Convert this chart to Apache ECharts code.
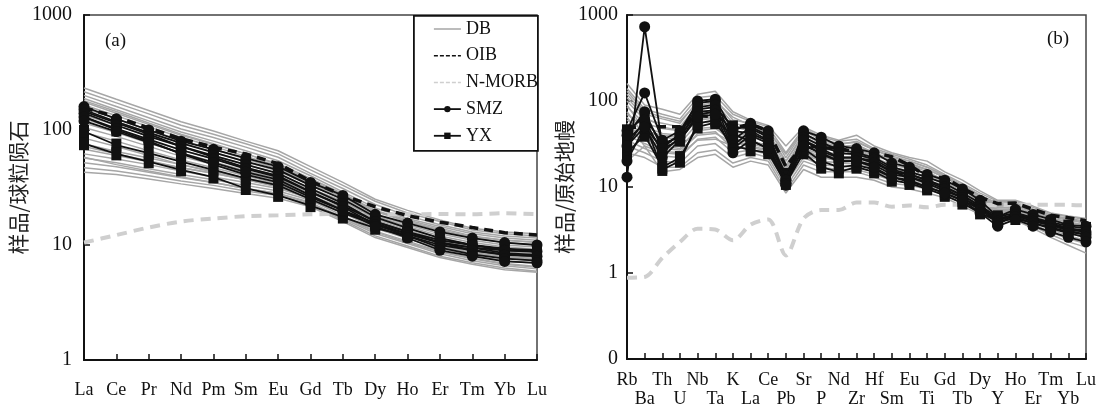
<!DOCTYPE html>
<html><head><meta charset="utf-8">
<script src="https://cdn.jsdelivr.net/npm/echarts@6/dist/echarts.min.js"></script>
<style>html,body{margin:0;padding:0;background:#fff}#c{width:1106px;height:409px}</style>
</head><body><div id="c"></div>
<script>
// ---------- categories ----------
const reeElements = ['La','Ce','Pr','Nd','Pm','Sm','Eu','Gd','Tb','Dy','Ho','Er','Tm','Yb','Lu'];
const spiderElements = ['Rb','Ba','Th','U','Nb','Ta','K','La','Ce','Pb','Sr','P','Nd','Zr','Hf','Sm','Eu','Ti','Gd','Tb','Dy','Y','Ho','Er','Tm','Yb','Lu'];

// ---------- (a) chondrite-normalised ----------
const oibChondrite = [156,130,104,84,71,62,51,36,27,21.5,18,15.8,14.2,12.8,12.2];
const nmorbChondrite = [10.5,12.2,14.2,16,17,17.8,18.1,18.5,18.6,18.5,18.5,18.6,18.5,18.9,18.5];
const dbChondrite = [
  [232,185,148,118,98,80,66,48,35,25,20,16.5,14,13,12.5],
  [215,172,138,110,92,76,62,45,33,24,19,16,13.5,12.5,12],
  [200,160,128,102,86,71,58,42,31,22.5,18,15,13,12,11.5],
  [188,150,120,96,80,66,54,40,29,21,17,14.5,12.5,11.5,11],
  [180,145,115,92,76,62,50,37,27.5,20,16,13.5,11.8,11,10.6],
  [175,140,112,90,75,62,51,38,28,20,16.5,14,12,11,10.5],
  [165,133,107,86,72,59,49,36,27,19.5,16,13.5,11.5,10.5,10],
  [155,125,100,81,68,56,46,34,26,18.5,15,12.5,11,10,9.6],
  [145,118,95,77,64,53,44,33,25,18,14.5,12,10.5,9.6,9.2],
  [135,110,88,72,60,50,42,31,24,17,14,11.5,10,9.2,8.8],
  [125,102,82,67,56,47,40,30,23,16.5,13.5,11,9.7,9,8.6],
  [115,95,77,63,53,44,38,28,22,16,13,10.8,9.5,8.8,8.4],
  [105,88,72,59,50,42,36,27,21,15.5,12.5,10.4,9.2,8.5,8.1],
  [95,80,66,55,47,40,34,26,20,15,12.2,10,8.9,8.2,7.8],
  [85,72,60,50,43,37,32,25,19,14.5,11.8,9.8,8.7,8,7.6],
  [76,65,57,50,44,38,34,27,20,15,12,9.8,8.6,7.9,7.5],
  [72,62,54,47,42,37,33,27,20,15,12,9.8,8.6,7.8,7.4],
  [68,60,53,47,42,37,33,27,20,15,12,9.8,8.5,7.7,7.3],
  [62,56,50,44,39,35,31,25.5,19,14,11.4,9.3,8.1,7.3,6.9],
  [58,50,44,39,35,31,28,23,17.5,13,10.5,8.7,7.6,6.8,6.4],
  [57,52,46,41,37,33,29.5,24.5,18,13.2,10.8,8.8,7.7,6.9,6.5],
  [52,48,43,38.5,35,31,28,23.5,17,12.6,10.3,8.4,7.3,6.6,6.2],
  [47,44,40,36,33,29.5,27,22.5,16.5,12,9.8,8,7,6.3,5.9],
  [43,41,37.5,34,31,28,25.5,21.5,16,11.6,9.5,7.8,6.8,6.1,5.8]
];
const smzChondrite = [
  [160,125,100,80,68,57,48,35,27,18.5,15.5,13,11.5,10.5,10],
  [150,118,95,77,64,53,45,33,25,17.5,14,11.5,10,9,8.8],
  [140,110,88,72,60,50,42,31,23,16,13,10.5,9,8.2,8],
  [130,103,83,67,56,46,39,29,21.5,15,12,9.5,8.3,7.6,7.3],
  [120,97,78,63,52,43,37,27,20,14.5,11.5,9,8,7.2,7]
];
const yxChondrite = [
  [97,74,63,53,45,38,33,25,19,15,12.5,10.5,9.5,8.5,8.2],
  [76,62,53,45,39,31,27,22,17.5,14,12,10,9,8.3,8],
  [145,115,92,72,58,47,40,29,22,16,13,11,10,9.3,9],
  [130,100,80,62,50,41,35,26,20,15.5,12.5,10.5,9.5,9,8.7]
];

// ---------- (b) primitive-mantle-normalised ----------
const oibMantle = [48.8,50,50.3,50.2,67.3,65.9,48,53.9,45,17.3,31.3,28.4,28.4,25,25.2,22.5,17.9,13.2,12.8,9.7,7.6,6.4,6.5,5.5,4.7,4.4,4.05];
const nmorbMantle = [0.88,0.9,1.5,2.3,3.27,3.2,2.4,3.64,4.2,1.6,4.3,5.4,5.4,6.6,6.6,5.9,6.1,5.8,6.2,6.2,6.2,6.15,6.2,6.2,6.2,6.2,6.1];
const dbMantle = [
  [160,90,80,70,120,130,75,60,52,30,50,40,35,40,30,25,22,20,15,12,9,7,7,6,5,4.6,4.3],
  [140,80,70,62,110,115,70,58,50,25,48,38,34,36,28,24,21,18,14,11,8.5,6.8,6.8,5.8,4.9,4.5,4.2],
  [130,75,65,58,95,100,65,52,45,24,46,35,31,34,27,22,20,17,13.5,10.5,8,6.4,6.5,5.5,4.7,4.2,3.9],
  [120,70,62,55,100,105,60,55,47,22,45,36,32,33,27,23,20,17,13.5,10.5,8,6.5,6.5,5.5,4.7,4.3,4],
  [110,65,50,45,70,72,50,45,40,20,42,32,29,31,25,20,18,16,13,10,7.8,6.1,6.2,5.2,4.4,3.9,3.6],
  [100,60,55,50,90,95,55,50,43,20,40,33,30,30,25,21,19,16,13,10,7.8,6.2,6.3,5.3,4.5,4.1,3.8],
  [90,45,40,38,60,63,42,40,35,17,36,28,26,27,22,18,16.5,14.5,12,9.2,7.2,5.7,5.8,4.9,4.2,3.7,3.4],
  [85,55,48,45,80,85,50,46,40,18,38,31,28,28,23,20,18,15,12,9.5,7.5,6,6,5.1,4.3,3.9,3.6],
  [75,40,32,30,45,48,35,33,29,14,32,24,22,23,19,16,15,13,11,8.5,6.8,5.4,5.5,4.6,3.9,3.4,3.1],
  [70,50,42,40,70,75,45,42,36,16,34,28,26,26,21,18,16.5,14,11.5,9,7.2,5.8,5.8,4.9,4.1,3.7,3.4],
  [65,35,28,27,40,42,33,30,27,13,28,22,21,21,17.5,15,14,12,10,8,6.4,5.1,5.2,4.4,3.7,3.2,2.9],
  [60,45,38,36,62,66,40,38,33,15,31,26,24,24,20,17,15.5,13,11,8.6,6.9,5.5,5.6,4.7,3.9,3.5,3.2],
  [55,30,25,24,35,36,30,27,25,12,26,20,19,20,16,14,13,11.5,9.5,7.5,6,4.8,5,4.2,3.5,3,2.7],
  [50,40,34,32,55,58,36,35,30,14,28,24,22,22,18.5,16,14.5,12,10.5,8.2,6.6,5.3,5.4,4.5,3.8,3.3,3],
  [45,36,30,28,48,50,32,32,28,13,26,22,20,20,17,15,13.5,11.5,10,7.8,6.3,5.1,5.2,4.3,3.6,3.1,2.8],
  [40,32,26,25,42,44,28,29,26,12,24,20,19,18.5,16,14,12.5,11,9.5,7.5,6,4.9,5,4.1,3.4,2.9,2.6],
  [35,28,23,22,36,38,25,27,24,11,22,18,17.5,17,15,13,12,10.5,9,7.2,5.7,4.7,4.8,3.9,3.2,2.7,2.4],
  [30,25,20,19,30,32,22,25,22,10,20,17,16,16,14,12,11,10,8.5,6.8,5.4,4.5,4.6,3.7,3,2.5,2.2],
  [25,22,17,17,25,27,19,22,20,9,18,15,15,15,13,11,10.5,9.5,8,6.5,5.2,4.3,4.4,3.5,2.8,2.3,2],
  [20,30,15,16,22,24,17,20,18,8.5,16,13,13,13,12,10,9.5,8.5,7.5,6,4.8,4,4.1,3.3,2.6,2.1,1.7]
];
const smzMantle = [
  [13,730,30,40,100,105,45,55,45,11,45,38,30,28,25,19,17,14,12,9.5,7,4.5,5.5,4.8,4.2,3.6,3.5],
  [45,124,35,45,95,100,35,50,40,12,42,33,27,25,22,17,15,13,11,8.5,6.5,3.6,5,4.3,3.8,3.3,3],
  [40,75,28,42,85,90,30,45,35,12,38,30,25,24,21,16,14,12,10,8,6,4,4.8,4,3.6,3.1,2.8],
  [30,60,25,38,75,78,28,40,32,11,35,28,22,22,19,15,13,11.5,9.5,7.5,5.5,3.8,4.5,3.8,3.3,2.9,2.6],
  [20,50,22,35,65,70,25,35,28,10.5,30,25,20,20,17,13,11.5,10,8.5,7,5,3.5,4.2,3.5,3,2.6,2.3]
];
const yxMantle = [
  [25,40,17,22,50,56,30,27,25,11,25,17,15,17,15,12,11,9.5,8,6.5,5,4,4.3,3.8,3.4,3,2.8],
  [35,55,16,20,55,60,40,35,28,12,28,20,17,18,16,13,12,10,8.5,7,5.5,4.2,4.6,4,3.6,3.2,3],
  [45,65,32,38,80,85,50,48,38,14,35,26,22,22,20,15,14,12,10,8,6,4.5,5,4.4,3.9,3.5,3.3],
  [30,50,28,35,70,75,45,42,34,13,32,24,20,20,18,14,13,11,9,7.5,5.8,4.3,4.8,4.2,3.7,3.3,3.1]
];

// ---------- styles ----------
const SERIF = 'Liberation Serif';
const CJK = 'Noto Sans CJK SC';
const INK = '#111';

function lineSeries(name, data, g, style) {
  return Object.assign({
    type: 'line', name: name, data: data,
    xAxisIndex: g, yAxisIndex: g,
    silent: true, animation: false
  }, style);
}
const dbStyle = {symbol: 'none', lineStyle: {color: '#a6a6a6', width: 1.5}, itemStyle: {color: '#a6a6a6'}, z: 1};
const nmorbStyle = {symbol: 'none', smooth: 0.3, lineStyle: {color: '#cfcfcf', width: 4, type: [10, 7]}, itemStyle: {color: '#cfcfcf'}, z: 2};
const oibStyle = {symbol: 'none', lineStyle: {color: INK, width: 3.5, type: [9, 6]}, itemStyle: {color: INK}, z: 3};
const smzStyle = {symbol: 'circle', symbolSize: 11, showSymbol: true, lineStyle: {color: INK, width: 1.8}, itemStyle: {color: INK}, z: 5};
const yxStyle = {symbol: 'rect', symbolSize: [10, 13], showSymbol: true, lineStyle: {color: INK, width: 1.8}, itemStyle: {color: INK}, z: 4};

const series = [];
[[dbChondrite, nmorbChondrite, oibChondrite, smzChondrite, yxChondrite, 0],
 [dbMantle, nmorbMantle, oibMantle, smzMantle, yxMantle, 1]].forEach(function (p) {
  const g = p[5];
  p[0].forEach(function (d) { series.push(lineSeries('DB', d, g, dbStyle)); });
  series.push(lineSeries('N-MORB', p[1], g, nmorbStyle));
  series.push(lineSeries('OIB', p[2], g, oibStyle));
  p[4].forEach(function (d) { series.push(lineSeries('YX', d, g, yxStyle)); });
  p[3].forEach(function (d) { series.push(lineSeries('SMZ', d, g, smzStyle)); });
});

function yFmt(v) { return v < 0.5 ? '0' : String(Math.round(v)); }

const chart = echarts.init(document.getElementById('c'), null, {renderer: 'canvas'});
chart.setOption({
  animation: false,
  backgroundColor: '#fff',
  grid: [
    {left: 84, top: 15, width: 453, height: 345, show: true, borderColor: '#444', borderWidth: 1.5, backgroundColor: 'transparent'},
    {left: 627, top: 15, width: 459, height: 345, show: true, borderColor: '#444', borderWidth: 1.5, backgroundColor: 'transparent'}
  ],
  xAxis: [
    {type: 'category', gridIndex: 0, data: reeElements, boundaryGap: false,
     axisLine: {lineStyle: {color: INK, width: 2}},
     axisTick: {inside: true, length: 6, lineStyle: {color: INK, width: 1.5}, interval: 0},
     axisLabel: {interval: 0, margin: 21, color: INK, fontFamily: SERIF, fontSize: 18},
     splitLine: {show: false}},
    {type: 'category', gridIndex: 1, data: spiderElements, boundaryGap: false,
     axisLine: {lineStyle: {color: INK, width: 2}},
     axisTick: {inside: true, length: 6, lineStyle: {color: INK, width: 1.5}, interval: 0},
     axisLabel: {interval: 0, margin: 12, color: INK, fontFamily: SERIF, fontSize: 18, lineHeight: 19,
       formatter: function (v, i) { return i % 2 ? '\n' + v : v; }},
     splitLine: {show: false}}
  ],
  yAxis: [
    {type: 'log', logBase: 10, gridIndex: 0, min: 1, max: 1000, splitNumber: 3,
     name: '样品/球粒陨石', nameLocation: 'middle', nameRotate: 90, nameGap: 55,
     nameTextStyle: {fontFamily: CJK, fontSize: 21, color: '#222'},
     axisLine: {show: true, lineStyle: {color: INK, width: 2}},
     axisTick: {show: true, inside: true, length: 6, lineStyle: {color: INK, width: 1.5}},
     minorTick: {show: false},
     axisLabel: {margin: 12, color: INK, fontFamily: SERIF, fontSize: 20, formatter: yFmt},
     splitLine: {show: false}},
    {type: 'log', logBase: 10, gridIndex: 1, min: 0.1, max: 1000, splitNumber: 4,
     name: '样品/原始地幔', nameLocation: 'middle', nameRotate: 90, nameGap: 46,
     nameTextStyle: {fontFamily: CJK, fontSize: 21, color: '#222'},
     axisLine: {show: true, lineStyle: {color: INK, width: 2}},
     axisTick: {show: true, inside: true, length: 6, lineStyle: {color: INK, width: 1.5}},
     minorTick: {show: false},
     axisLabel: {margin: 9, color: INK, fontFamily: SERIF, fontSize: 20, formatter: yFmt},
     splitLine: {show: false}}
  ],
  legend: {
    orient: 'vertical', left: 433, top: 20, padding: 0,
    itemWidth: 27, itemHeight: 8, itemGap: 8.7,
    textStyle: {fontFamily: SERIF, fontSize: 18, color: INK, lineHeight: 18},
    selectedMode: false,
    data: [
      {name: 'DB', lineStyle: {width: 1.5}, itemStyle: {opacity: 0}},
      {name: 'OIB', lineStyle: {width: 1.6, type: [4, 2]}, itemStyle: {opacity: 0}},
      {name: 'N-MORB', lineStyle: {width: 1.5, type: [4, 2]}, itemStyle: {opacity: 0}},
      {name: 'SMZ', lineStyle: {width: 1.8}},
      {name: 'YX', lineStyle: {width: 1.8}}
    ]
  },
  graphic: [
    {type: 'rect', left: 413, top: 15, z: 0, zlevel: 0,
     shape: {width: 124, height: 135},
     style: {fill: '#fff', stroke: INK, lineWidth: 1.8}},
    {type: 'text', left: 105, top: 32, z: 10,
     style: {text: '(a)', font: '19px "Liberation Serif"', fill: INK}},
    {type: 'text', left: 1047, top: 30, z: 10,
     style: {text: '(b)', font: '19px "Liberation Serif"', fill: INK}}
  ],
  series: series
});
</script>
</body></html>
